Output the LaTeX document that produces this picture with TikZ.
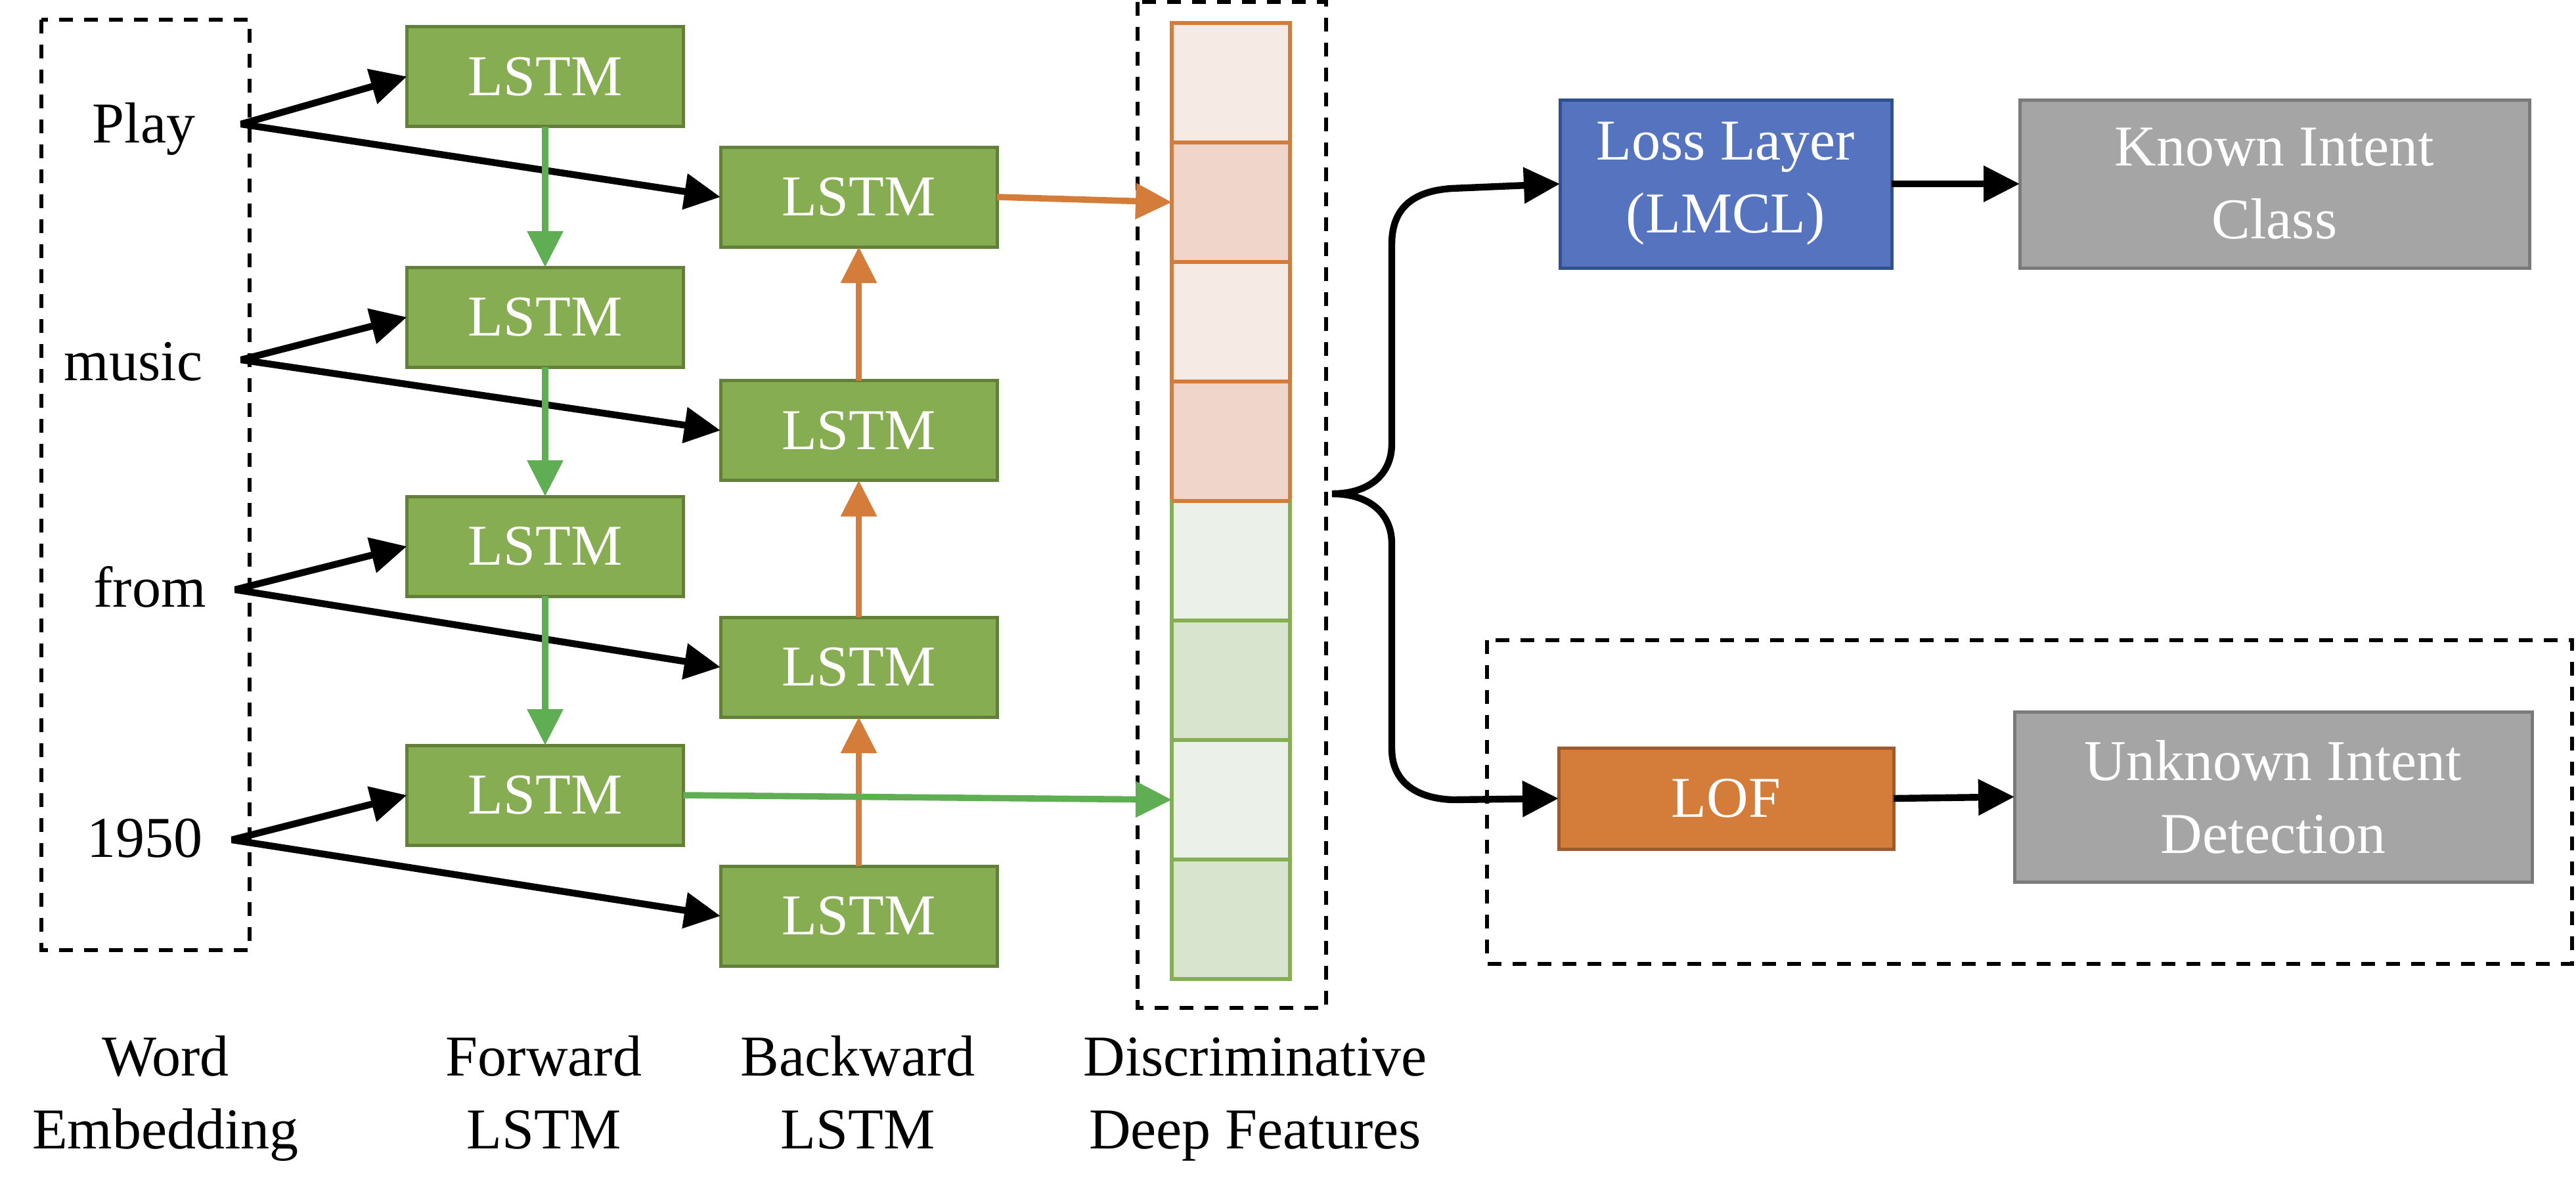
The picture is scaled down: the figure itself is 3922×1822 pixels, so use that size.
\documentclass[tikz,border=0pt]{standalone}
\usepackage{fontspec}
\setmainfont{Liberation Serif}
\usetikzlibrary{arrows.meta}
\definecolor{lstmfill}{RGB}{134,173,82}
\definecolor{lstmdraw}{RGB}{99,128,58}
\definecolor{lossfill}{RGB}{86,115,192}
\definecolor{lossdraw}{RGB}{47,82,143}
\definecolor{grayfill}{RGB}{165,165,165}
\definecolor{graydraw}{RGB}{122,122,122}
\definecolor{lofill}{RGB}{212,124,58}
\definecolor{lofdraw}{RGB}{158,90,45}
\definecolor{garrow}{RGB}{96,174,84}
\definecolor{oarrow}{RGB}{212,124,58}
\definecolor{olight}{RGB}{246,234,229}
\definecolor{odark}{RGB}{240,213,203}
\definecolor{glight}{RGB}{235,241,232}
\definecolor{gdark}{RGB}{217,228,207}
\definecolor{gcell}{RGB}{132,175,82}
\tikzset{
  >={Triangle[length=13.75pt,width=13.25pt]},
  txt/.style={font=\fontsize{22}{27.75}\selectfont, inner sep=0pt},
  box/.style={txt, text=white, line width=1.25pt, align=center, inner sep=0pt, outer sep=0pt},
  lstm/.style={box, fill=lstmfill, draw=lstmdraw, minimum width=105.25pt, minimum height=38pt},
  cellbox/.style={line width=1.4pt, minimum width=45pt, minimum height=45.5pt, inner sep=0pt, outer sep=0pt},
  ocellA/.style={cellbox, fill=olight, draw=oarrow},
  ocellB/.style={cellbox, fill=odark, draw=oarrow},
  gcellA/.style={cellbox, fill=glight, draw=gcell},
  gcellB/.style={cellbox, fill=gdark, draw=gcell},
  blk/.style={line width=2.6pt, black, line join=bevel},
  grn/.style={line width=2.4pt, garrow},
  org/.style={line width=2.4pt, oarrow},
  dbox/.style={line width=1.5pt, dash pattern=on 5.25pt off 4.25pt},
  lbl/.style={txt, align=center, anchor=base},
}
\begin{document}
\begin{tikzpicture}[x=0.25pt,y=-0.25pt]
\useasboundingbox (0,0) rectangle (3922,1822);
% dashed frames
\draw[dbox] (63,30) rectangle (380,1447);
\draw[dbox] (1732,3) rectangle (2019,1535);
\draw[dbox] (2264,975) rectangle (3916,1468);
% words
\node[txt, anchor=base] (wplay) at (219,217) {Play};
\node[txt, anchor=base] (wmusic) at (203,579) {music};
\node[txt, anchor=base] (wfrom) at (228,924) {from};
\node[txt, anchor=base] (w1950) at (220,1305) {1950};
\coordinate (oplay) at (367,189);
\coordinate (omusic) at (367,548);
\coordinate (ofrom) at (358,898);
\coordinate (o1950) at (353,1279);
% forward LSTMs
\node[lstm] (f1) at (830,116.5) {LSTM};
\node[lstm] (f2) at (830,483) {LSTM};
\node[lstm] (f3) at (830,832) {LSTM};
\node[lstm] (f4) at (830,1211) {LSTM};
% backward LSTMs
\node[lstm] (b1) at (1307.5,300) {LSTM};
\node[lstm] (b2) at (1307.5,655.5) {LSTM};
\node[lstm] (b3) at (1307.5,1016) {LSTM};
\node[lstm] (b4) at (1307.5,1395) {LSTM};
% feature column
\node[ocellA] (c1) at (1874,126) {};
\node[ocellB] (c2) at (1874,308) {};
\node[ocellA] (c3) at (1874,490) {};
\node[ocellB] (c4) at (1874,672) {};
\node[gcellA] (c5) at (1874,854) {};
\node[gcellB] (c6) at (1874,1036) {};
\node[gcellA] (c7) at (1874,1218) {};
\node[gcellB] (c8) at (1874,1400) {};
\draw[line width=1.4pt, oarrow] (c4.south west) -- (c4.south east);
% right boxes
\node[box, fill=lossfill, draw=lossdraw, minimum width=126.25pt, minimum height=64pt] (loss) at (2627.5,280) {Loss Layer\\(LMCL)};
\node[box, fill=grayfill, draw=graydraw, minimum width=194pt, minimum height=64pt] (known) at (3463,280) {Known Intent\\Class};
\node[box, fill=lofill, draw=lofdraw, minimum width=127.5pt, minimum height=38.5pt] (lof) at (2628,1216) {LOF};
\node[box, fill=grayfill, draw=graydraw, minimum width=197pt, minimum height=64.75pt] (unknown) at (3461,1213.5) {Unknown Intent\\Detection};
% word arrows
\draw[blk,<->] (f1.west) -- (oplay) -- (b1.west);
\draw[blk,<->] (f2.west) -- (omusic) -- (b2.west);
\draw[blk,<->] (f3.west) -- (ofrom) -- (b3.west);
\draw[blk,<->] (f4.west) -- (o1950) -- (b4.west);
% forward chain
\draw[grn,->] (f1) -- (f2);
\draw[grn,->] (f2) -- (f3);
\draw[grn,->] (f3) -- (f4);
% backward chain
\draw[org,->] (b4) -- (b3);
\draw[org,->] (b3) -- (b2);
\draw[org,->] (b2) -- (b1);
% to features
\draw[org,->] (b1.east) -- (c2.west);
\draw[grn,->] (f4.east) -- (c7.west);
% brace
\coordinate (tip) at (2028,752);
\draw[blk,->] (tip) .. controls (2085,752) and (2119,722) .. (2119,676) -- (2119,372) .. controls (2119,318) and (2150,291) .. (2210,287) -- (loss.west);
\draw[blk,->] (tip) .. controls (2085,752) and (2119,782) .. (2119,828) -- (2119,1140) .. controls (2119,1190) and (2155,1216) .. (2212,1218) -- (lof.west);
\draw[blk,->] (loss.east) -- (known.west);
\draw[blk,->] (lof.east) -- (unknown.west);
% bottom labels
\node[lbl] (l1) at (252,1749) {Word\\Embedding};
\node[lbl] (l2) at (828,1749) {Forward\\LSTM};
\node[lbl] (l3) at (1306,1749) {Backward\\LSTM};
\node[lbl] (l4) at (1911,1749) {Discriminative\\Deep Features};
\end{tikzpicture}
\end{document}
